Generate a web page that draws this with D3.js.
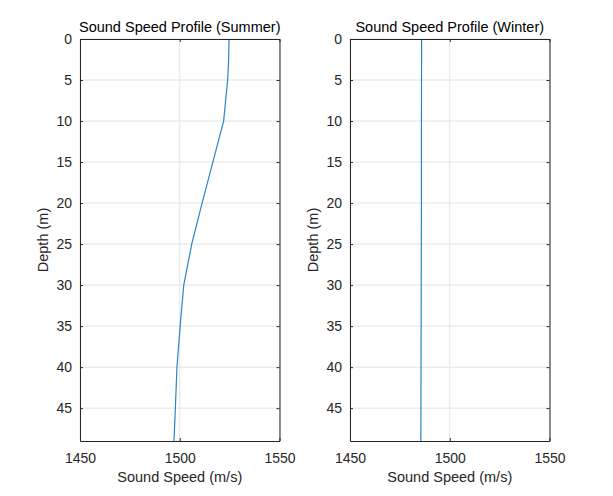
<!DOCTYPE html>
<html>
<head>
<meta charset="utf-8">
<script src="https://cdn.jsdelivr.net/npm/d3@7"></script>
<style>
  body { margin: 0; background: #fff; }
  svg { display: block; font-family: "Liberation Sans", Arial, sans-serif; }
</style>
</head>
<body>
<div id="chart"></div>
<script>
// depth samples (m) and sound speed (m/s)
var summerDepth = [0, 2.5, 5, 10, 15, 20, 25, 30, 35, 40, 45, 49];
var summerSpeed = [1524.7, 1524.5, 1524.0, 1522.0, 1516.6, 1511.2, 1506.0, 1502.0, 1500.2, 1498.6, 1497.8, 1497.1];
var winterDepth = [0, 10, 20, 30, 40, 49];
var winterSpeed = [1485.9, 1485.8, 1485.8, 1485.7, 1485.6, 1485.5];
var speedTicks = [1450, 1500, 1550];
var depthTicks = [0, 5, 10, 15, 20, 25, 30, 35, 40, 45];
var titles = ['Sound Speed Profile (Summer)', 'Sound Speed Profile (Winter)'];

var W = 613, H = 496;
var svg = d3.select('#chart').append('svg')
    .attr('width', W).attr('height', H);

var panels = [
    { left: 80, depth: summerDepth, speed: summerSpeed, title: titles[0], ylabX: 48 },
    { left: 350, depth: winterDepth, speed: winterSpeed, title: titles[1], ylabX: 318 }
];
var plotTop = 39, plotBottom = 441, pw = 199.5;
var axisColor = '#262626';

panels.forEach(function(p){
    var x = d3.scaleLinear().domain([1450, 1550]).range([p.left, p.left + pw]);
    var y = d3.scaleLinear().domain([0, 49]).range([plotTop, plotBottom]);
    var g = svg.append('g');

    // grid
    g.selectAll('line.vgrid').data(speedTicks).enter().append('line')
        .attr('x1', d => x(d)).attr('x2', d => x(d))
        .attr('y1', plotTop).attr('y2', plotBottom)
        .attr('stroke', '#e3e3e3').attr('stroke-width', 1);
    g.selectAll('line.hgrid').data(depthTicks).enter().append('line')
        .attr('x1', p.left).attr('x2', p.left + pw)
        .attr('y1', d => y(d)).attr('y2', d => y(d))
        .attr('stroke', '#e3e3e3').attr('stroke-width', 1);

    // profile line
    var pts = p.depth.map((d, i) => [p.speed[i], d]);
    g.append('path').datum(pts)
        .attr('fill', 'none').attr('stroke', '#2a86c8').attr('stroke-width', 1.2)
        .attr('d', d3.line().x(d => x(d[0])).y(d => y(d[1])));

    // axes (ticks inward, box on)
    var ax = function(sel){ sel.select('.domain').attr('stroke', axisColor); sel.selectAll('.tick line').attr('stroke', axisColor); };
    g.append('g').attr('transform', 'translate(0,' + plotBottom + ')')
        .call(d3.axisBottom(x).tickValues(speedTicks).tickSizeInner(-3).tickSizeOuter(0).tickPadding(12).tickFormat(d3.format('d')))
        .call(ax);
    g.append('g').attr('transform', 'translate(0,' + plotTop + ')')
        .call(d3.axisTop(x).tickValues(speedTicks).tickSizeInner(-3).tickSizeOuter(0).tickFormat(''))
        .call(ax);
    g.append('g').attr('transform', 'translate(' + p.left + ',0)')
        .call(d3.axisLeft(y).tickValues(depthTicks).tickSizeInner(-3).tickSizeOuter(0).tickPadding(8))
        .call(ax);
    g.append('g').attr('transform', 'translate(' + (p.left + pw) + ',0)')
        .call(d3.axisRight(y).tickValues(depthTicks).tickSizeInner(-3).tickSizeOuter(0).tickFormat(''))
        .call(ax);
    g.selectAll('.tick text').style('font-size', '14px').attr('fill', axisColor).attr('font-family', null);

    // labels
    g.append('text').attr('x', p.left + pw / 2).attr('y', 32)
        .attr('text-anchor', 'middle').attr('fill', '#000').style('font-size', '14.5px')
        .text(p.title);
    g.append('text').attr('x', p.left + pw / 2).attr('y', 482)
        .attr('text-anchor', 'middle').attr('fill', axisColor).style('font-size', '14.5px')
        .text('Sound Speed (m/s)');
    g.append('text')
        .attr('transform', 'translate(' + p.ylabX + ',' + ((plotTop + plotBottom) / 2) + ') rotate(-90)')
        .attr('text-anchor', 'middle').attr('fill', axisColor).style('font-size', '14.5px')
        .text('Depth (m)');
});
</script>
</body>
</html>
